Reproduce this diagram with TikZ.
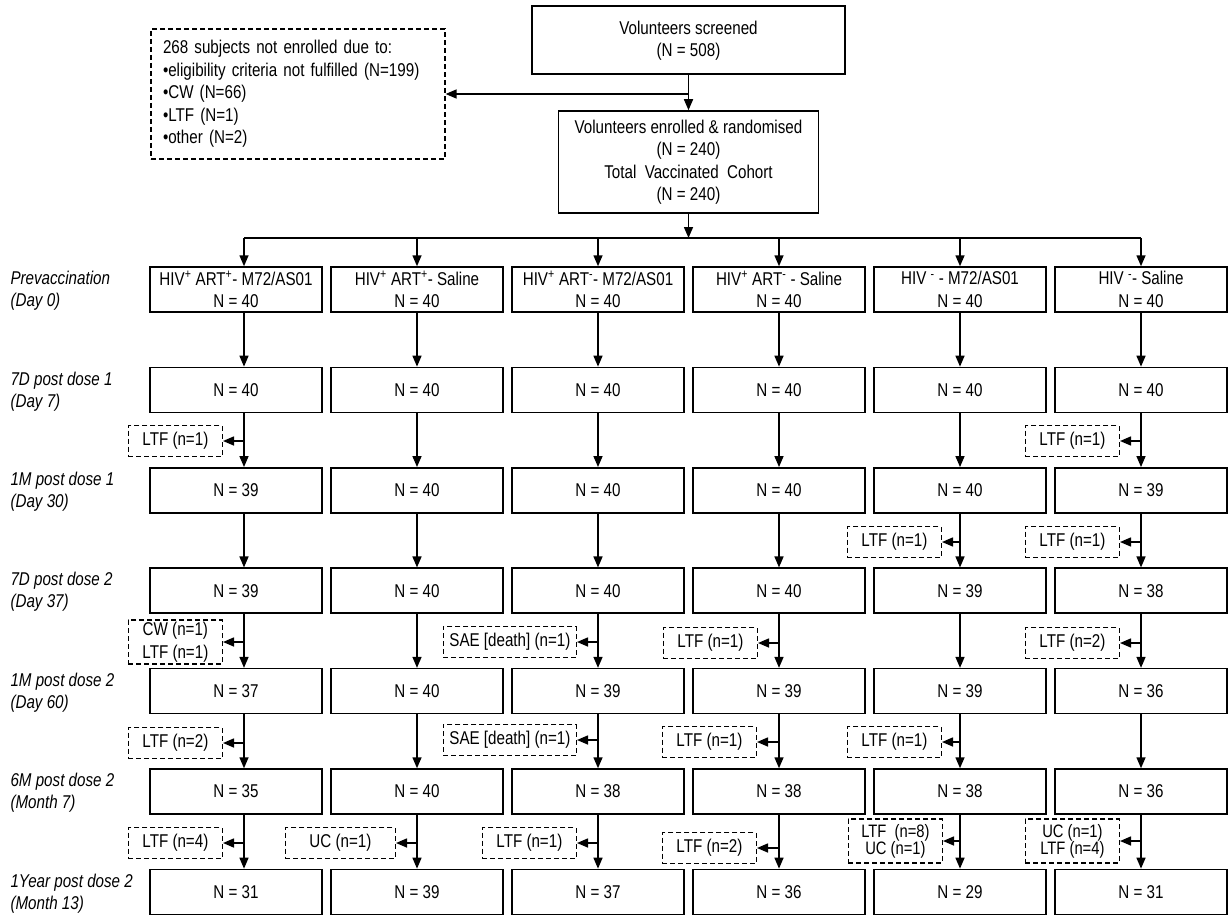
\documentclass[tikz,border=0pt]{standalone}
\usepackage{fontspec}
\setmainfont{Liberation Sans}[FakeStretch=0.82]
\usepackage{tikz}
\usetikzlibrary{arrows.meta,calc,positioning}
\newcommand\tightlines{\fontsize{18}{17}\selectfont\setlength\lineskiplimit{-20pt}}
\tikzset{
  stagebox/.style={draw=black, line width=1.5pt, minimum width=172pt, minimum height=45pt, inner sep=2pt, align=center},
  dropbox/.style={draw=black, line width=1.2pt, dash pattern=on 5pt off 3pt, minimum width=94pt, minimum height=31pt, inner xsep=6pt, inner ysep=2pt, align=center, anchor=east},
  tightbox/.style={dropbox, minimum height=44pt, inner ysep=1pt, font=\tightlines},
  flow/.style={-{Triangle[length=11pt,width=9pt]}, line width=1.5pt},
  rowlabel/.style={anchor=west, align=left, font=\fontsize{18.5}{22}\selectfont\itshape}
}

\begin{document}
\begin{tikzpicture}[x=1pt, y=-1pt, font=\fontsize{18.5}{22.5}\selectfont]
  \useasboundingbox (0,0) rectangle (1228,915);
  % screening and enrolment
  \node[stagebox, minimum width=313pt, minimum height=68pt, text depth=2pt] (screen) at (688.5,40) {Volunteers screened\\(N = 508)};
  \node[stagebox, minimum width=260pt, minimum height=102pt, font=\fontsize{18.5}{22.5}\selectfont] (enrol) at (688.5,162) {Volunteers enrolled \& randomised\\(N = 240)\\Total~ Vaccinated~ Cohort\\(N = 240)};
  \node[dropbox, anchor=center, align=left, text width=270pt, minimum height=130pt, inner xsep=12pt] (excl) at (298,94) {268 subjects not enrolled due to:\\•eligibility criteria not fulfilled (N=199)\\•CW (N=66)\\•LTF (N=1)\\•other (N=2)};
  \draw[flow] (screen) -- (enrol);
  \draw[flow] (excl.east -| screen) -- (excl.east);
  % randomisation trunk
  \coordinate (t1) at (244,238);
  \coordinate (t2) at (417,238);
  \coordinate (t3) at (598,238);
  \coordinate (t4) at (779,238);
  \coordinate (t5) at (960,238);
  \coordinate (t6) at (1141,238);
  \draw[flow] (enrol) -- (enrol.south |- t1);
  \draw[line width=1.5pt] (t1) -- (t6);
  % time points
  \foreach \lab [count=\row] in {{Prevaccination\\(Day 0)}, {7D post dose 1\\(Day 7)}, {1M post dose 1\\(Day 30)}, {7D post dose 2\\(Day 37)}, {1M post dose 2\\(Day 60)}, {6M post dose 2\\(Month 7)}, {1Year post dose 2\\(Month 13)}}
    \node[rowlabel] (lab\row) at (7,{291+100.4*(\row-1)}) {\lab};
  % groups
  \node[stagebox] (r1c1) at (236,289.5) {HIV\textsuperscript{+} ART\textsuperscript{+}- M72/AS01\\N = 40};
  \node[stagebox] (r1c2) at (417,289.5) {HIV\textsuperscript{+} ART\textsuperscript{+}- Saline\\N = 40};
  \node[stagebox] (r1c3) at (598,289.5) {HIV\textsuperscript{+} ART\textsuperscript{-}- M72/AS01\\N = 40};
  \node[stagebox] (r1c4) at (779,289.5) {HIV\textsuperscript{+} ART\textsuperscript{-} - Saline\\N = 40};
  \node[stagebox] (r1c5) at (960,289.5) {HIV \textsuperscript{-} - M72/AS01\\N = 40};
  \node[stagebox] (r1c6) at (1141,289.5) {HIV \textsuperscript{-}- Saline\\N = 40};
  \foreach \x/\counts [count=\col] in {236/{40,39,39,37,35,31}, 417/{40,40,40,40,40,39}, 598/{40,40,40,39,38,37}, 779/{40,40,40,39,38,36}, 960/{40,40,39,39,38,29}, 1141/{40,39,38,36,36,31}}
    \foreach \n [count=\row from 2] in \counts
      \node[stagebox] (r\row c\col) at (\x,{289.5+100.4*(\row-1)}) {N = \n};
  \foreach \col in {1,...,6}
    \draw[flow] (t\col) -- (r1c\col.north -| t\col);
  \foreach \col in {1,...,6}
    \foreach \row in {1,...,6} {
      \pgfmathtruncatemacro\nxt{\row+1}
      \draw[flow] (r\row c\col.south -| t\col) -- (r\nxt c\col.north -| t\col);
    }
  % withdrawals
  \node[dropbox] (d2c1) at (223,441) {LTF (n=1)};
  \node[dropbox] (d2c6) at (1120,441) {LTF (n=1)};
  \node[dropbox] (d3c5) at (942,542) {LTF (n=1)};
  \node[dropbox] (d3c6) at (1120,542) {LTF (n=1)};
  \node[dropbox, minimum height=44pt] (d4c1) at (223,642) {CW (n=1)\\LTF (n=1)};
  \node[dropbox] (d4c3) at (577,642) {SAE [death] (n=1)};
  \node[dropbox] (d4c4) at (758,643) {LTF (n=1)};
  \node[dropbox] (d4c6) at (1120,643) {LTF (n=2)};
  \node[dropbox] (d5c1) at (223,743) {LTF (n=2)};
  \node[dropbox] (d5c3) at (577,740) {SAE [death] (n=1)};
  \node[dropbox] (d5c4) at (757,742) {LTF (n=1)};
  \node[dropbox] (d5c5) at (942,742) {LTF (n=1)};
  \node[dropbox] (d6c1) at (223,843) {LTF (n=4)};
  \node[dropbox, minimum width=110pt] (d6c2) at (396,843) {UC (n=1)};
  \node[dropbox] (d6c3) at (577,843) {LTF (n=1)};
  \node[dropbox] (d6c4) at (757,848) {LTF (n=2)};
  \node[tightbox] (d6c5) at (943,841) {LTF~ (n=8)\\UC (n=1)};
  \node[tightbox] (d6c6) at (1120,841) {UC (n=1)\\LTF (n=4)};
  \foreach \d/\col in {d2c1/1, d2c6/6, d3c5/5, d3c6/6, d4c1/1, d4c3/3, d4c4/4, d4c6/6, d5c1/1, d5c3/3, d5c4/4, d5c5/5, d6c1/1, d6c2/2, d6c3/3, d6c4/4, d6c5/5, d6c6/6}
    \draw[flow] (\d.east -| t\col) -- (\d.east);
\end{tikzpicture}
\end{document}
